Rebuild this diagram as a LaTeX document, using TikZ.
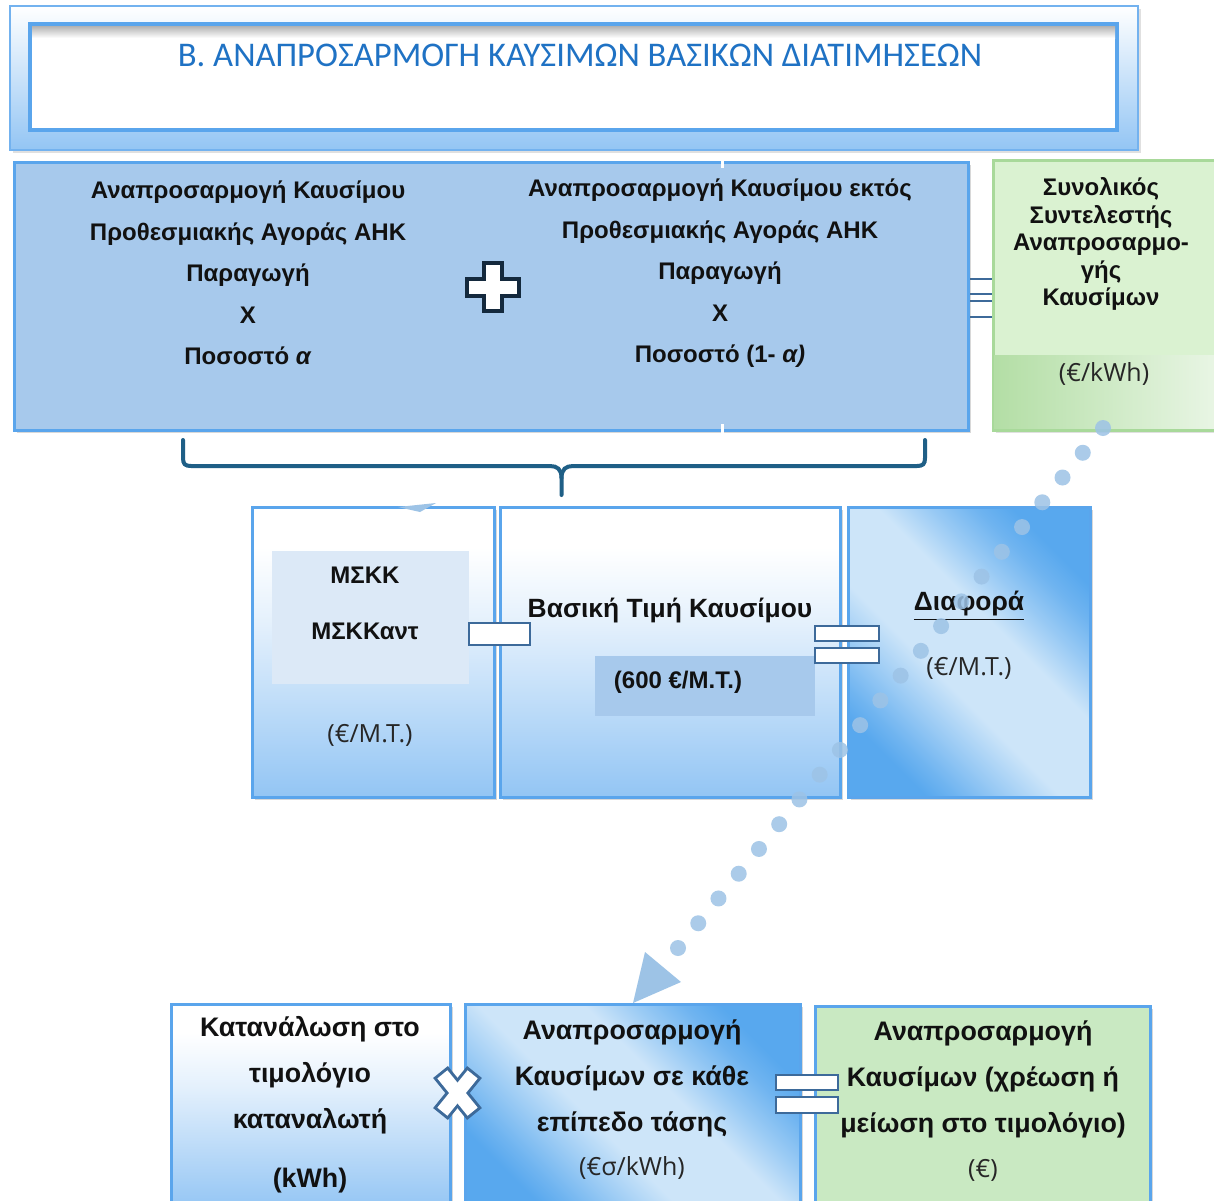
\documentclass[tikz,border=0pt]{standalone}
\usepackage{fontspec}
\setmainfont{Liberation Sans}
\newfontfamily\titlefont{Carlito}
\newfontfamily\unitfont{Open Sans}
\usetikzlibrary{shadows,calc}
\definecolor{bordblue}{HTML}{5AA5EC}
\definecolor{topfill}{HTML}{A7C9EC}
\definecolor{gradbot}{HTML}{93C5F4}
\definecolor{darkb}{HTML}{58A8EE}
\definecolor{lightb}{HTML}{CDE5F9}
\definecolor{navy}{HTML}{14293D}
\definecolor{opblue}{HTML}{3D6A9A}
\definecolor{bracec}{HTML}{1F5F86}
\definecolor{dotc}{HTML}{9DC3E6}
\definecolor{greenlt}{HTML}{DAF2D1}
\definecolor{greenmd}{HTML}{B3DEA5}
\definecolor{greenwh}{HTML}{EAF6E6}
\definecolor{greenbox}{HTML}{C9E9C2}
\definecolor{greenbord}{HTML}{A8D99A}
\definecolor{titleblue}{HTML}{1F72C4}
\definecolor{mskkfill}{HTML}{DCE9F7}
\definecolor{txt}{HTML}{111111}
\pgfdeclareverticalshading{whiteblue}{100bp}{color(0bp)=(gradbot); color(25bp)=(gradbot); color(55bp)=(white!75!gradbot); color(68bp)=(white); color(100bp)=(white)}
\pgfdeclarehorizontalshading{diagblue}{100bp}{color(0bp)=(darkb); color(25bp)=(darkb); color(29bp)=(darkb!80!lightb); color(35bp)=(darkb!45!lightb); color(43bp)=(lightb); color(57bp)=(lightb); color(64bp)=(darkb!45!lightb); color(70bp)=(darkb!80!lightb); color(75bp)=(darkb); color(100bp)=(darkb)}
\tikzset{
  box/.style={draw=bordblue, line width=1.5pt, inner sep=0pt, outer sep=0pt,
    drop shadow={shadow xshift=1.5pt, shadow yshift=-1.5pt, opacity=0.25, fill=black!60}},
  gradbox/.style={box, shading=whiteblue},
  diagbox/.style={box, shading=diagblue, shading angle=45},
  opsign/.style={draw=opblue, fill=white, line width=1.2pt, inner sep=0pt, outer sep=0pt},
  bodytxt/.style={font=\fontsize{12}{20.75}\selectfont\bfseries, text=txt, align=center, inner sep=0pt},
  midtxt/.style={font=\fontsize{13.2}{16}\selectfont\bfseries, text=txt, align=center, inner sep=0pt},
  greentxt/.style={font=\fontsize{12}{13.75}\selectfont\bfseries, text=txt, align=center, inner sep=0pt},
  lowtxt/.style={font=\fontsize{13.4}{23}\selectfont\bfseries, text=txt, align=center, inner sep=0pt},
  unittxt/.style={font=\fontsize{12.5}{15}\unitfont, text=black!85, inner sep=0pt},
  dotline/.style={draw=dotc, line width=8pt, line cap=round, dash pattern=on 0pt off 15.99pt, draw opacity=0.85},
}
\begin{document}
\begin{tikzpicture}[x=0.5pt,y=-0.5pt]
\useasboundingbox (0,0) rectangle (1214,1200);
\fill[white] (0,0) rectangle (1214,1200);

% ---- title ----
\node[draw=bordblue!85, line width=1pt, top color=white, bottom color=gradbot, inner sep=0pt,
  minimum width=564pt, minimum height=72pt,
  drop shadow={shadow xshift=1.5pt, shadow yshift=-1.5pt, opacity=0.2, fill=black!60}] (titleouter) at (574,78) {};
\node[draw=bordblue, line width=2pt, fill=white, inner sep=0pt,
  minimum width=543.5pt, minimum height=53pt] (titleinner) at (573.5,77) {};
\shade[top color=black!30, bottom color=white] (32,26) rectangle (1115,38);
\node[font=\fontsize{17.3}{20}\titlefont, text=titleblue, inner sep=0pt] (title) at (580,55)
  {Β. ΑΝΑΠΡΟΣΑΡΜΟΓΗ ΚΑΥΣΙΜΩΝ ΒΑΣΙΚΩΝ ΔΙΑΤΙΜΗΣΕΩΝ};

% ---- top equals bars (behind boxes) ----
\node[opsign, minimum width=25pt, minimum height=7.5pt] (eqtopA) at (975,286.5) {};
\node[opsign, minimum width=25pt, minimum height=8pt] (eqtopB) at (975,309) {};

% ---- top formula box ----
\node[box, fill=topfill, minimum width=477pt, minimum height=134pt] (topbox) at (491,296) {};
\draw[white, line width=1.2pt] (722.5,159) -- (722.5,168);
\draw[white, line width=1.2pt] (722.5,424) -- (722.5,434);
\node[bodytxt] (lefttxt) at (248,273) {Αναπροσαρμογή Καυσίμου\\Προθεσμιακής Αγοράς ΑΗΚ\\Παραγωγή\\X\\Ποσοστό \textit{α}};
\node[bodytxt] (righttxt) at (720,273.5) {Αναπροσαρμογή Καυσίμου εκτός\\Προθεσμιακής Αγοράς ΑΗΚ\\Παραγωγή\\X\\Ποσοστό (1- \textit{α)}};
\draw[draw=navy, line width=2pt, fill=white, line join=miter, shift={(492.5,287)}]
  (-9,-24) -- (9,-24) -- (9,-8.5) -- (26,-8.5) -- (26,8.5) -- (9,8.5) -- (9,24) -- (-9,24)
  -- (-9,8.5) -- (-26,8.5) -- (-26,-8.5) -- (-9,-8.5) -- cycle;

% ---- green total box ----
\node[draw=greenbord, line width=1.5pt, fill=greenlt, inner sep=0pt,
  minimum width=114.5pt, minimum height=135pt,
  drop shadow={shadow xshift=1.5pt, shadow yshift=-1.5pt, opacity=0.2, fill=black!60}] (totbox) at (1107.5,295) {};
\shade[left color=greenmd, right color=greenwh] (994,355) rectangle (1222,429);
\draw[greenbord, line width=1.5pt] (993,430) -- (1222,430);
\node[greentxt] (tottxt) at (1101,244) {Συνολικός\\Συντελεστής\\Αναπροσαρμο-\\γής\\Καυσίμων};
\node[unittxt] (totunit) at (1104,374) {(€/kWh)};

% ---- brace ----
\draw[bracec, line width=2pt, line cap=round]
  (183,440) -- (183,458) .. controls (183,464) and (185,466) .. (191,466) -- (550,466)
  .. controls (557,466) and (561.5,469) .. (561.5,478) -- (561.5,495);
\draw[bracec, line width=2pt, line cap=round]
  (925,440) -- (925,458) .. controls (925,464) and (923,466) .. (917,466) -- (573,466)
  .. controls (566,466) and (561.5,469) .. (561.5,478);

% ---- middle row ----
\node[gradbox, minimum width=121pt, minimum height=145pt] (mskkbox) at (373,652) {};
\fill[dotc] (398,507) -- (436,503) -- (420,512) -- cycle;
\node[fill=mskkfill, inner sep=0pt, minimum width=98.5pt, minimum height=66.5pt] (mskkin) at (370.5,617.5) {};
\node[bodytxt] (mskk1) at (365,575) {ΜΣΚΚ};
\node[bodytxt] (mskk2) at (365,631) {ΜΣΚΚαντ};
\node[unittxt] (mskkunit) at (370,735) {(€/Μ.Τ.)};

\node[gradbox, minimum width=170pt, minimum height=145pt] (basebox) at (670,652) {};
\node[fill=topfill, inner sep=0pt, minimum width=110pt, minimum height=30pt] (pricein) at (705,686) {};
\node[midtxt] (basetxt) at (670,610) {Βασική Τιμή Καυσίμου};
\node[bodytxt] (pricetxt) at (678,682) {(600 €/Μ.Τ.)};

\node[opsign, minimum width=30.5pt, minimum height=11pt] (minus) at (499.5,634) {};

\node[diagbox, minimum width=121pt, minimum height=145pt] (diffbox) at (969,652) {};
\node[midtxt] (difftxt) at (969,606) {\underline{Διαφορά}};
\node[unittxt] (diffunit) at (969,668) {(€/Μ.Τ.)};

\node[opsign, minimum width=32pt, minimum height=7.5pt] (eqmidA) at (847,633.5) {};
\node[opsign, minimum width=32pt, minimum height=7.5pt] (eqmidB) at (847,655.5) {};

% ---- bottom row ----
\node[gradbox, minimum width=139.5pt, minimum height=103pt] (consbox) at (310.5,1107) {};
\node[lowtxt] (constxt) at (310,1075) {Κατανάλωση στο\\τιμολόγιο\\καταναλωτή};
\node[lowtxt] (consunit) at (310,1181) {(kWh)};

\node[diagbox, minimum width=167.5pt, minimum height=103pt] (adjbox) at (632.5,1107) {};
\node[lowtxt] (adjtxt) at (632,1078) {Αναπροσαρμογή\\Καυσίμων σε κάθε\\επίπεδο τάσης};
\node[unittxt] (adjunit) at (632,1168) {(€σ/kWh)};

\node[box, fill=greenbox, minimum width=167.5pt, minimum height=102pt] (billbox) at (982.5,1108) {};
\node[lowtxt] (billtxt) at (983,1079) {Αναπροσαρμογή\\Καυσίμων (χρέωση ή\\μείωση στο τιμολόγιο)};
\node[unittxt] (billunit) at (983,1170) {(€)};

\node[opsign, minimum width=31pt, minimum height=7.5pt] (eqlowA) at (807,1082.5) {};
\node[opsign, minimum width=31pt, minimum height=8pt] (eqlowB) at (807,1105) {};

% times sign
\coordinate (xc) at (457.5,1093);
\draw[opblue, line width=9.5pt] ($(xc)+(-17,-21)$) -- ($(xc)+(17,21)$);
\draw[opblue, line width=9.5pt] ($(xc)+(17,-21)$) -- ($(xc)+(-17,21)$);
\draw[white, line width=6.5pt, shorten <=1.5pt, shorten >=1.5pt] ($(xc)+(-17,-21)$) -- ($(xc)+(17,21)$);
\draw[white, line width=6.5pt, shorten <=1.5pt, shorten >=1.5pt] ($(xc)+(17,-21)$) -- ($(xc)+(-17,21)$);

% ---- dotted connector ----
\coordinate (dotA) at (1103,428);
\coordinate (dotB) at (678,948);
\draw[dotline] (dotA) -- (dotB);
\fill[dotc] (645,952) -- (681,982) -- (633,1003) -- cycle;
\end{tikzpicture}
\end{document}
